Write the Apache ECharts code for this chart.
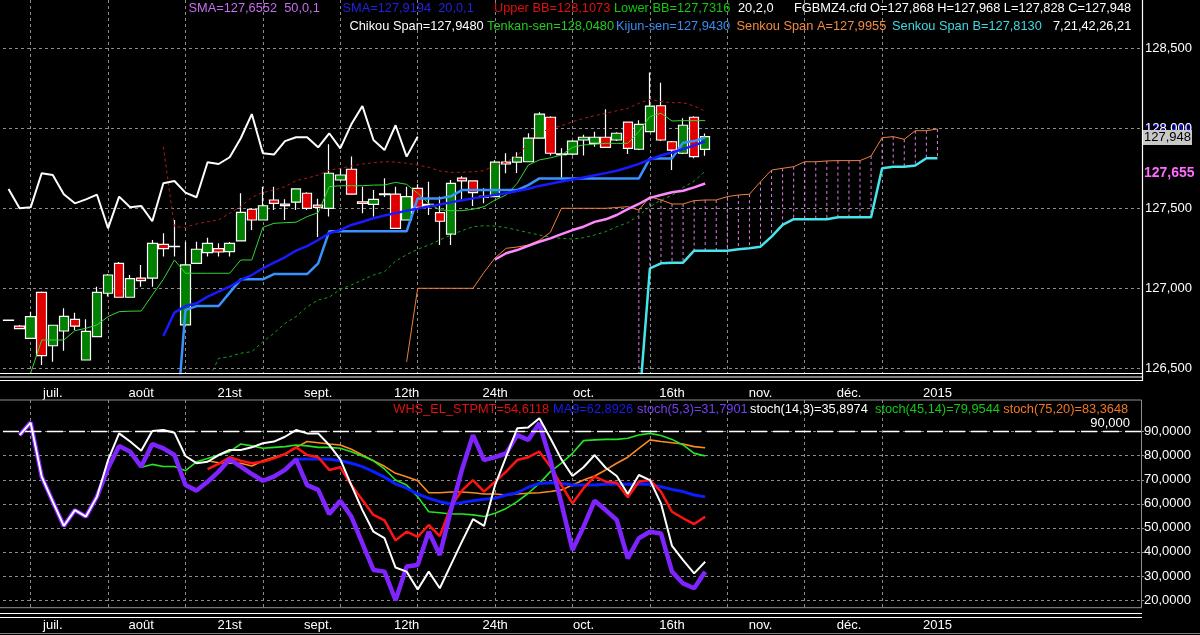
<!DOCTYPE html>
<html>
<head>
<meta charset="utf-8">
<script src="https://cdn.jsdelivr.net/npm/echarts@6/dist/echarts.min.js"></script>
<style>
  html, body { margin: 0; padding: 0; background: #000; }
  #chart { width: 1200px; height: 635px; }
</style>
</head>
<body>
<div id="chart"></div>
<script>
// ---- data ----
const barCount = 103; // slots on the time axis (64 bars + 21 projected + empty space)
const tickBars = [4, 12, 20, 28, 36, 44, 52, 60, 68, 76, 84];
const tickLabels = ['juil.', 'août', '21st', 'sept.', '12th', '24th', 'oct.', '16th', 'nov.', 'déc.', '2015'];

const opens = [126.801, 126.764, 126.687, 126.975, 126.641, 126.733, 126.806, 126.552, 126.698, 126.969,
  127.156, 126.944, 127.063, 127.063, 127.275, 127.262, 126.771, 127.156, 127.223, 127.248,
  127.229, 127.296, 127.494, 127.427, 127.552, 127.526, 127.538, 127.594, 127.52, 127.5,
  127.677, 127.744, 127.541, 127.525, 127.59, 127.588, 127.427, 127.625, 127.525, 127.473,
  127.338, 127.688, 127.671, 127.575, 127.573, 127.788, 127.788, 127.791, 127.938, 128.069,
  127.84, 127.838, 127.927, 127.906, 127.944, 127.927, 128.038, 127.869, 127.979, 128.141,
  127.916, 127.844, 128.069, 127.868];
const highs = [126.805, 126.77, 126.854, 126.98, 126.77, 126.875, 126.847, 126.806, 127.01, 127.09,
  127.164, 127.083, 127.146, 127.302, 127.344, 127.427, 127.291, 127.291, 127.316, 127.281,
  127.29, 127.594, 127.5, 127.635, 127.635, 127.556, 127.625, 127.6, 127.56, 127.9,
  127.75, 127.823, 127.635, 127.614, 127.688, 127.635, 127.635, 127.65, 127.666, 127.573,
  127.677, 127.7, 127.675, 127.625, 127.8, 127.844, 127.85, 127.969, 128.1, 128.075,
  127.875, 127.925, 127.96, 127.979, 128.119, 127.975, 128.04, 128.05, 128.348, 128.285,
  127.92, 128.063, 128.075, 127.968];
const lows = [126.795, 126.745, 126.687, 126.52, 126.541, 126.61, 126.739, 126.552, 126.698, 126.948,
  126.944, 126.944, 127.01, 127.01, 127.198, 127.198, 126.771, 127.156, 127.198, 127.198,
  127.198, 127.296, 127.364, 127.427, 127.489, 127.427, 127.489, 127.49, 127.32, 127.448,
  127.67, 127.588, 127.469, 127.448, 127.57, 127.37, 127.427, 127.5, 127.458, 127.27,
  127.27, 127.552, 127.514, 127.531, 127.57, 127.719, 127.72, 127.79, 127.938, 127.83,
  127.688, 127.83, 127.83, 127.885, 127.88, 127.92, 127.84, 127.865, 127.975, 127.92,
  127.739, 127.84, 127.813, 127.828];
const closes = [126.799, 126.748, 126.823, 126.579, 126.769, 126.825, 126.763, 126.731, 126.975, 127.083,
  126.944, 127.06, 127.048, 127.281, 127.248, 127.26, 127.146, 127.244, 127.281, 127.227,
  127.281, 127.475, 127.427, 127.516, 127.531, 127.517, 127.621, 127.5, 127.506, 127.719,
  127.708, 127.588, 127.531, 127.556, 127.585, 127.375, 127.573, 127.506, 127.515, 127.419,
  127.656, 127.671, 127.598, 127.569, 127.788, 127.777, 127.819, 127.938, 128.089, 127.844,
  127.836, 127.92, 127.944, 127.944, 127.881, 127.969, 127.875, 128.025, 128.139, 127.927,
  127.864, 128.019, 127.823, 127.948];

// each indicator: first bar index + values
const chikouStart = 0;
const chikou = [127.621, 127.50, 127.506, 127.719, 127.708, 127.588, 127.531, 127.556, 127.585, 127.375,
  127.573, 127.506, 127.515, 127.419, 127.656, 127.671, 127.598, 127.569, 127.788, 127.777,
  127.819, 127.938, 128.089, 127.844, 127.836, 127.92, 127.944, 127.944, 127.881, 127.969,
  127.875, 128.025, 128.139, 127.927, 127.864, 128.019, 127.823, 127.948];
const tenkanStart = 2;
const tenkan = [126.47, 126.677, 126.677, 126.677, 126.735, 126.75, 126.771, 126.823, 126.854, 126.857,
  126.858, 126.958, 127.056, 127.177, 127.094, 127.094, 127.094, 127.094, 127.094, 127.177,
  127.177, 127.381, 127.406, 127.41, 127.413, 127.448, 127.473, 127.635, 127.641, 127.641,
  127.641, 127.645, 127.646, 127.662, 127.65, 127.594, 127.531, 127.49, 127.485, 127.485,
  127.494, 127.51, 127.552, 127.583, 127.656, 127.77, 127.802, 127.815, 127.833, 127.881,
  127.896, 127.9, 127.906, 127.906, 127.906, 127.979, 128.073, 128.094, 128.046, 128.048,
  128.048, 128.048];
const kijunStart = 15;
const kijun = [126.0, 126.864, 126.889, 126.889, 126.889, 126.973, 127.056, 127.056, 127.056, 127.089,
  127.089, 127.089, 127.089, 127.156, 127.356, 127.356, 127.356, 127.356, 127.356, 127.356,
  127.356, 127.356, 127.562, 127.562, 127.562, 127.575, 127.614, 127.614, 127.614, 127.614,
  127.614, 127.614, 127.645, 127.687, 127.687, 127.687, 127.687, 127.687, 127.687, 127.687,
  127.687, 127.687, 127.687, 127.812, 127.812, 127.812, 127.91, 127.92, 127.943];
const sma20Start = 14;
const sma20 = [126.702, 126.848, 126.889, 126.906, 126.948, 126.979, 127.01, 127.052, 127.083, 127.125,
  127.16, 127.194, 127.235, 127.264, 127.302, 127.344, 127.364, 127.396, 127.416, 127.438,
  127.455, 127.47, 127.485, 127.498, 127.511, 127.524, 127.537, 127.55, 127.562, 127.573,
  127.584, 127.594, 127.608, 127.622, 127.64, 127.654, 127.667, 127.68, 127.693, 127.706,
  127.72, 127.735, 127.755, 127.778, 127.805, 127.83, 127.849, 127.87, 127.893, 127.919];
const sma50Start = 44;
const sma50 = [127.18, 127.219, 127.239, 127.266, 127.291, 127.312, 127.339, 127.364, 127.385, 127.415,
  127.431, 127.458, 127.495, 127.527, 127.565, 127.583, 127.6, 127.61, 127.631, 127.655];
const upperBBStart = 14;
const upperBB = [127.885, 127.385, 127.381, 127.402, 127.416, 127.427, 127.469, 127.51, 127.569, 127.598,
  127.614, 127.635, 127.673, 127.689, 127.708, 127.739, 127.75, 127.764, 127.777, 127.785,
  127.791, 127.789, 127.781, 127.771, 127.756, 127.733, 127.725, 127.725, 127.729, 127.735,
  127.771, 127.788, 127.827, 127.906, 127.969, 128.0, 128.016, 128.041, 128.062, 128.079,
  128.094, 128.11, 128.125, 128.156, 128.181, 128.167, 128.16, 128.16, 128.139, 128.107];
const lowerBBStart = 18;
const lowerBB = [126.42, 126.562, 126.573, 126.594, 126.604, 126.666, 126.719, 126.781, 126.823, 126.885,
  126.927, 126.944, 126.994, 127.021, 127.052, 127.083, 127.104, 127.17, 127.21, 127.244,
  127.27, 127.302, 127.333, 127.36, 127.385, 127.391, 127.389, 127.379, 127.364, 127.348,
  127.333, 127.319, 127.312, 127.308, 127.316, 127.333, 127.354, 127.385, 127.41, 127.455,
  127.51, 127.552, 127.58, 127.63, 127.67, 127.732];
const spanAStart = 36;
const spanA = [126.54, 127.0, 127.0, 127.0, 127.0, 127.0, 127.0, 127.1, 127.19, 127.25,
  127.258, 127.27, 127.3, 127.35, 127.5, 127.5, 127.5, 127.5, 127.5, 127.505,
  127.51, 127.489, 127.573, 127.552, 127.527, 127.527, 127.548, 127.552, 127.552, 127.573,
  127.583, 127.588, 127.666, 127.739, 127.75, 127.76, 127.791, 127.791, 127.796, 127.798,
  127.798, 127.798, 127.827, 127.941, 127.948, 127.931, 127.985, 127.985, 127.9955];
const spanBStart = 57;
const spanB = [126.25, 127.125, 127.156, 127.16, 127.16, 127.235, 127.235, 127.235, 127.235, 127.244,
  127.25, 127.26, 127.323, 127.396, 127.432, 127.432, 127.432, 127.432, 127.444, 127.444,
  127.444, 127.444, 127.75, 127.76, 127.76, 127.767, 127.813, 127.813];

// lower panel
const stoch53Start = 1;
const stoch53 = [88.6, 93.8, 71.3, 60.9, 50.8, 57.4, 54.7, 63.0, 74.8, 84.1,
  81.7, 75.5, 84.9, 83.1, 80.3, 67.8, 65.5, 69.2, 73.4, 78.5,
  75.5, 72.4, 69.6, 71.3, 74.1, 78.5, 67.8, 65.8, 55.8, 61.3,
  54.7, 43.6, 32.5, 31.8, 19.9, 33.9, 34.6, 48.4, 38.7, 57.4,
  74.1, 88.6, 78.2, 79.4, 81.0, 88.6, 86.6, 93.5, 78.2, 60.2,
  40.8, 50.5, 61.3, 57.4, 53.3, 37.3, 45.7, 48.4, 47.7, 31.8,
  26.9, 24.9, 31.79];
const stoch143Start = 1;
const stoch143 = [88.6, 93.8, 71.3, 60.9, 50.8, 57.4, 54.7, 63.0, 78.2, 89.3,
  85.9, 82.1, 90.3, 90.7, 89.6, 79.9, 76.9, 77.5, 80.3, 82.4,
  82.4, 83.5, 85.2, 85.9, 87.9, 90.7, 89.3, 89.3, 84.5, 78.5,
  67.8, 57.4, 48.4, 45.7, 33.5, 31.8, 24.4, 31.8, 24.9, 34.6,
  44.3, 53.6, 50.8, 67.8, 79.6, 91.4, 91.8, 95.6, 87.3, 78.5,
  71.6, 75.2, 80.3, 75.0, 71.6, 64.1, 72.0, 69.9, 60.2, 42.5,
  36.6, 31.1, 35.9];
const stoch4514Start = 12;
const stoch4514 = [75.2, 76.4, 75.5, 75.5, 73.8, 77.5, 78.9, 80.3, 81.7, 84.9,
  84.1, 83.1, 83.5, 83.8, 84.5, 84.1, 83.5, 83.5, 83.1, 81.7,
  79.9, 77.9, 74.5, 69.9, 67.8, 63.0, 56.7, 56.3, 55.8, 55.8,
  55.4, 54.7, 56.1, 58.1, 60.9, 64.4, 68.5, 73.4, 76.9, 81.0,
  86.3, 86.6, 86.8, 86.8, 87.3, 88.6, 89.3, 88.4, 86.8, 84.5,
  81.0, 79.95];
const stoch7520Start = 18;
const stoch7520 = [77.9, 77.1, 76.9, 76.9, 75.7, 77.9, 79.4, 80.7, 83.5, 85.9,
  85.4, 84.9, 84.5, 82.7, 80.3, 77.9, 75.6, 72.7, 71.3, 69.6,
  64.6, 64.6, 64.9, 64.9, 64.6, 64.1, 64.1, 63.7, 64.1, 64.4,
  64.6, 65.1, 65.8, 67.8, 69.9, 71.6, 74.1, 76.9, 79.4, 83.1,
  86.6, 85.9, 85.4, 84.9, 83.8, 83.36];
const stpmtStart = 18;
const stpmt = [74.4, 76.6, 79.4, 77.9, 76.9, 77.5, 78.9, 80.7, 83.5, 80.3,
  79.4, 74.1, 75.2, 67.8, 61.6, 55.4, 53.1, 44.8, 48.4, 46.3,
  51.2, 46.6, 58.8, 65.5, 69.9, 65.1, 69.2, 73.4, 78.2, 79.4,
  81.7, 75.5, 67.8, 60.2, 66.5, 71.3, 69.2, 68.8, 62.7, 69.2,
  69.9, 65.1, 56.7, 54.0, 51.6, 54.61];
const ma9Start = 26;
const ma9 = [78.5, 78.6, 78.6, 78.5, 77.9, 76.9, 75.5, 73.4, 71.1, 68.3,
  66.5, 64.1, 62.3, 60.9, 59.9, 60.5, 61.3, 61.9, 62.3, 63.7,
  64.6, 66.9, 68.5, 68.8, 68.5, 67.8, 67.8, 67.8, 68.1, 68.1,
  68.1, 68.1, 68.2, 67.1, 66.0, 65.1, 63.7, 62.89];

// ---- helpers ----
const FONT = "'Liberation Sans', Arial, sans-serif";
const LEGEND_FONT = '12.8px ' + FONT;
const cats = Array.from({ length: barCount }, (_, i) => 'b' + i);
function pad(start, values) {
  const out = new Array(barCount).fill(null);
  values.forEach((v, k) => { out[start + k] = v; });
  return out;
}
const candleData = opens.map((o, i) => [o, closes[i], lows[i], highs[i]]);
const aFull = pad(spanAStart, spanA), bFull = pad(spanBStart, spanB);
const cloudData = [];
for (let i = spanBStart; i < spanBStart + spanB.length; i++) cloudData.push([i, aFull[i], bFull[i]]);

const gridStyle = { color: '#8a8a8a', width: 1, type: [3, 3] };
const vLine = (i) => i >= 2 && i <= 79 && (i - 2) % 7 === 0;
const labelAt = (i) => tickBars.indexOf(i) >= 0;
const fmtLabel = (v, i) => tickLabels[tickBars.indexOf(i)] || '';

function xCat(gridIndex, withLabels, margin) {
  return {
    type: 'category', gridIndex, data: cats, boundaryGap: true,
    show: withLabels,
    axisLine: { show: false }, axisTick: { show: false },
    axisLabel: { show: withLabels, interval: (i) => labelAt(i), formatter: (v) => fmtLabel(v, cats.indexOf(v)),
      color: '#fff', fontSize: 13, fontFamily: FONT, margin },
    splitLine: { show: withLabels, alignWithLabel: true, interval: (i) => vLine(i), lineStyle: gridStyle }
  };
}

function line(name, start, values, color, width, axis, extra) {
  return Object.assign({
    name, type: 'line', data: pad(start, values),
    xAxisIndex: axis, yAxisIndex: axis, symbol: 'none', showSymbol: false,
    lineStyle: { color, width }, silent: true, animation: false
  }, extra || {});
}

function txt(x, y, text, color, extra) {
  return Object.assign({
    type: 'text', x, y, z: 100,
    style: { text, fill: color, font: LEGEND_FONT, verticalAlign: 'middle' }
  }, extra || {});
}

const chart = echarts.init(document.getElementById('chart'));

const option = {
  backgroundColor: '#000',
  animation: false,
  textStyle: { fontFamily: FONT },
  grid: [
    { left: 3, right: 58, top: 0, height: 373, outerBoundsMode: 'none' },      // price data
    { left: 3, right: 58, top: 48.3, height: 320, outerBoundsMode: 'none' },   // price scale
    { left: 3, right: 58, top: 400, height: 207.7, outerBoundsMode: 'none' },  // stoch data
    { left: 3, right: 58, top: 431.7, height: 168.3, outerBoundsMode: 'none' } // stoch scale
  ],
  xAxis: [
    xCat(0, true, 14),
    xCat(1, false, 0),
    xCat(2, true, 11),
    xCat(3, false, 0)
  ],
  yAxis: [
    { type: 'value', gridIndex: 0, min: 126.4706, max: 128.8019, show: false, splitLine: { show: false } },
    { type: 'value', gridIndex: 1, min: 126.5, max: 128.5, interval: 0.5, position: 'right',
      axisLine: { show: false }, axisTick: { show: false },
      axisLabel: { color: '#fff', fontSize: 13, fontFamily: FONT, margin: 3,
        formatter: (v) => v.toFixed(3).replace('.', ',') },
      splitLine: { show: true, lineStyle: gridStyle } },
    { type: 'value', gridIndex: 2, min: 16.8, max: 103.19, show: false, splitLine: { show: false } },
    { type: 'value', gridIndex: 3, min: 20, max: 90, interval: 10, position: 'right',
      axisLine: { show: false }, axisTick: { show: true, length: 2, lineStyle: { color: '#909090' } },
      axisLabel: { color: '#fff', fontSize: 13, fontFamily: FONT, margin: 2,
        formatter: (v) => v.toFixed(4).replace('.', ',') },
      splitLine: { show: true, lineStyle: gridStyle } }
  ],
  series: [
    {
      name: 'cloud', type: 'custom', xAxisIndex: 0, yAxisIndex: 0, data: cloudData,
      encode: { x: 0, y: [1, 2] }, silent: true,
      renderItem: function (params, api) {
        const i = api.value(0);
        const p1 = api.coord([i, api.value(1)]);
        const p2 = api.coord([i, api.value(2)]);
        const bottom = params.coordSys.y + params.coordSys.height;
        return { type: 'line',
          shape: { x1: p1[0], y1: Math.min(p1[1], bottom), x2: p2[0], y2: Math.min(p2[1], bottom) },
          style: { stroke: '#e07ee0', lineWidth: 1, lineDash: [3, 3] } };
      }
    },
    line('Senkou Span A', spanAStart, spanA, '#f0803c', 1, 0),
    line('Senkou Span B', spanBStart, spanB, '#48e4ec', 2.5, 0),
    line('Lower BB', lowerBBStart, lowerBB, '#18a018', 1, 0, { lineStyle: { color: '#18a018', width: 1, type: [3, 3] } }),
    line('Upper BB', upperBBStart, upperBB, '#b01a1a', 1, 0, { lineStyle: { color: '#b01a1a', width: 1, type: [3, 3] } }),
    line('SMA 50', sma50Start, sma50, '#ff88ff', 2.5, 0),
    {
      name: 'FGBMZ4', type: 'candlestick', xAxisIndex: 0, yAxisIndex: 0, data: candleData,
      barWidth: 10, silent: true,
      itemStyle: { color: '#008000', color0: '#e00000', borderColor: '#ffffff', borderColor0: '#ffffff',
        borderColorDoji: '#ffffff', borderWidth: 1.2 }
    },
    line('Chikou Span', chikouStart, chikou, '#ffffff', 2, 0),
    line('Tenkan-sen', tenkanStart, tenkan, '#33d633', 1, 0),
    line('Kijun-sen', kijunStart, kijun, '#3a92ff', 2.5, 0),
    line('SMA 20', sma20Start, sma20, '#1a1aff', 2.5, 0),

    line('stoch(75,20)', stoch7520Start, stoch7520, '#ff8a1e', 1.6, 2),
    line('stoch(45,14)', stoch4514Start, stoch4514, '#22e622', 1.6, 2),
    line('MA9', ma9Start, ma9, '#0a1eff', 3, 2),
    line('WHS_EL_STPMT', stpmtStart, stpmt, '#ff1414', 2.5, 2),
    line('stoch(5,3)', stoch53Start, stoch53, '#8024ff', 4.5, 2),
    line('stoch(14,3)', stoch143Start, stoch143, '#ffffff', 2, 2, {
      markLine: {
        silent: true, symbol: 'none', animation: false,
        data: [{ yAxis: 90 }],
        lineStyle: { color: '#ffffff', width: 1.3, type: [16, 6] },
        label: { show: true, position: 'insideEndTop', formatter: '90,000', color: '#fff',
          fontSize: 13, fontFamily: FONT, distance: [12, 2] }
      }
    })
  ],
  graphic: [
    // panel frames
    { type: 'line', shape: { x1: 0, y1: 373.5, x2: 1142, y2: 373.5 }, style: { stroke: '#fff', lineWidth: 1.2 }, z: 50 },
    { type: 'line', shape: { x1: 0, y1: 377, x2: 1142, y2: 377 }, style: { stroke: '#fff', lineWidth: 1.2 }, z: 50 },
    { type: 'line', shape: { x1: 0, y1: 380.5, x2: 1142, y2: 380.5 }, style: { stroke: '#fff', lineWidth: 1.2 }, z: 50 },
    { type: 'line', shape: { x1: 1142.5, y1: 0, x2: 1142.5, y2: 381 }, style: { stroke: '#fff', lineWidth: 1.2 }, z: 50 },
    { type: 'rect', shape: { x: -1, y: 400, width: 1142.5, height: 207.7 }, style: { fill: null, stroke: '#909090', lineWidth: 1 }, z: 50 },
    { type: 'line', shape: { x1: 0, y1: 613.5, x2: 1142, y2: 613.5 }, style: { stroke: '#fff', lineWidth: 1.2 }, z: 50 },
    { type: 'line', shape: { x1: 0, y1: 617.5, x2: 1142, y2: 617.5 }, style: { stroke: '#fff', lineWidth: 1.2 }, z: 50 },
    { type: 'line', shape: { x1: 0, y1: 633.5, x2: 1200, y2: 633.5 }, style: { stroke: '#808080', lineWidth: 1 }, z: 50 },

    // top legends
    txt(188.5, 8, 'SMA=127,6552  50,0,1', '#c86cf0'),
    txt(342.5, 8, 'SMA=127,9194  20,0,1', '#2222dd'),
    txt(494, 8, 'Upper BB=128,1073', '#e01010'),
    txt(614, 8, 'Lower BB=127,7316', '#14c814'),
    txt(738, 8, '20,2,0', '#ffffff'),
    txt(794, 8, 'FGBMZ4.cfd O=127,868 H=127,968 L=127,828 C=127,948', '#ffffff'),
    txt(349.5, 26, 'Chikou Span=127,9480', '#ffffff'),
    txt(487, 26, 'Tenkan-sen=128,0480', '#22cc22'),
    txt(616, 26, 'Kijun-sen=127,9430', '#3a8ef0'),
    txt(736.5, 26, 'Senkou Span A=127,9955', '#f08c40'),
    txt(892, 26, 'Senkou Span B=127,8130', '#40d8e0'),
    txt(1053, 26, '7,21,42,26,21', '#ffffff'),

    // price tags on the right scale
    txt(1145, 129, '127,919', '#1010ee', { z: -1, style: { text: '127,919', fill: '#1010ee', font: 'bold 13px ' + FONT, verticalAlign: 'middle' } }),
    txt(1143, 137.5, '127,948', '#000', { style: { text: '127,948', fill: '#000', font: '13px ' + FONT, verticalAlign: 'middle',
      backgroundColor: '#c8c8c8', padding: [1, 1, 1, 1] } }),
    txt(1144, 173, '127,655', '#ff6cff', { style: { text: '127,655', fill: '#ff6cff', font: 'bold 14px ' + FONT, verticalAlign: 'middle' } }),

    // lower legends
    txt(393.3, 409.5, 'WHS_EL_STPMT=54,6118', '#e01010'),
    txt(553, 409.5, 'MA9=62,8926', '#1a1aee'),
    txt(637, 409.5, 'stoch(5,3)=31,7901', '#7440f0'),
    txt(750, 409.5, 'stoch(14,3)=35,8974', '#ffffff'),
    txt(875, 409.5, 'stoch(45,14)=79,9544', '#14c814'),
    txt(1003.3, 409.5, 'stoch(75,20)=83,3648', '#f07820')
  ]
};

chart.setOption(option);
</script>
</body>
</html>
